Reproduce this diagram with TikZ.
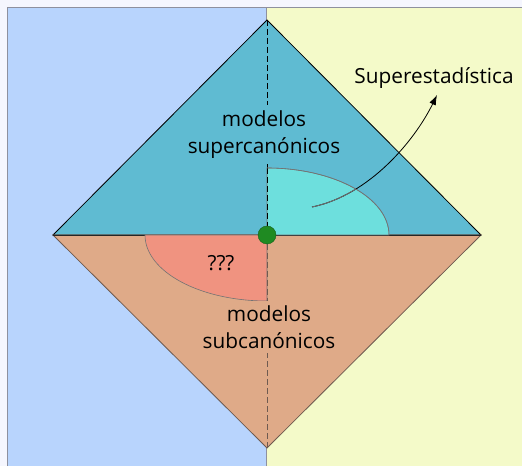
\documentclass[tikz,border=0pt]{standalone}
\usepackage{fontspec}
\setmainfont{Open Sans}
\usetikzlibrary{arrows.meta}
\definecolor{outerbg}{HTML}{F5F6FE}
\definecolor{bluebg}{HTML}{B8D4FD}
\definecolor{yellowbg}{HTML}{F4FAC9}
\definecolor{tealup}{HTML}{5FBBD2}
\definecolor{cyanq}{HTML}{6DDFDD}
\definecolor{tanlow}{HTML}{DFAA88}
\definecolor{redq}{HTML}{F09380}
\definecolor{greendot}{HTML}{1F8A22}
\definecolor{frame}{HTML}{8E909E}
\definecolor{lowline}{HTML}{6E5A50}
\begin{document}
\begin{tikzpicture}[x=1pt,y=1pt,
  lbl/.style={font=\fontsize{20.8}{26.5}\selectfont, align=center, inner sep=0pt, text=black},
  dashline/.style={dash pattern=on 6pt off 3pt, line width=0.9pt},
  arc edge/.style={draw=black!55, line width=0.6pt}]
\useasboundingbox (0,0) rectangle (522,466);
% backgrounds
\fill[outerbg] (0,0) rectangle (522,466);
\fill[bluebg] (7,0) rectangle (266.5,459);
\fill[yellowbg] (266.5,0) rectangle (522,459);
\draw[frame, line width=0.8pt] (7,0) -- (7,459) -- (522,459);
\draw[frame, line width=0.8pt] (266.5,0) -- (266.5,459);
% key points
\coordinate (T) at (267,446);
\coordinate (L) at (53,231);
\coordinate (R) at (481,231);
\coordinate (B) at (267,18);
\coordinate (C) at (267,231);
% upper triangle
\filldraw[fill=tealup, draw=black, line width=0.8pt] (L) -- (T) -- (R) -- cycle;
% lower triangle
\filldraw[fill=tanlow, draw=lowline, line width=0.8pt] (L) -- (B) -- (R) -- cycle;
\draw[black!85, line width=0.8pt] (L) -- (R);
% arrow
\coordinate (A0) at (312,259);
\coordinate (A1) at (437,371);
% dashed axis
\draw[dashline, black] (T) -- (C);
\draw[dashline, lowline] (C) -- (B);
% cyan quarter
\filldraw[fill=cyanq, arc edge] (C) -- (389,231) arc[start angle=0, end angle=90, x radius=122, y radius=67] -- cycle;
% red quarter
\filldraw[fill=redq, arc edge] (C) -- (145,231) arc[start angle=180, end angle=270, x radius=122, y radius=66] -- cycle;
\draw[dashline, black] (267,298) -- (C);
\draw[dashline, lowline] (C) -- (267,165);
% arrow curve
\draw[-{Latex[length=10pt,width=7pt]}, line width=0.8pt, black] (A0) .. controls (370,271) and (415,326) .. (A1);
\begin{scope}
  \clip (C) -- (389,231) arc[start angle=0, end angle=90, x radius=122, y radius=67] -- cycle;
  \draw[line width=0.8pt, black!55] (A0) .. controls (370,271) and (415,326) .. (A1);
\end{scope}
\draw[arc edge] (389,231) arc[start angle=0, end angle=90, x radius=122, y radius=67];
% green dot
\node[circle, fill=greendot, draw=greendot!70!black, line width=0.4pt, minimum size=18pt, inner sep=0pt] (G) at (C) {};
% labels
\node[lbl, fill=tealup, inner ysep=6pt, inner xsep=1pt] (sup) at (264,331.4) {modelos\\supercanónicos};
\node[lbl, fill=tanlow, inner ysep=5pt, inner xsep=1pt] (sub) at (269,138.9) {modelos\\subcanónicos};
\node[lbl, anchor=base] (q) at (221,195.5) {???};
\node[lbl, anchor=base] (se) at (434,382) {Superestadística};
\end{tikzpicture}
\end{document}
